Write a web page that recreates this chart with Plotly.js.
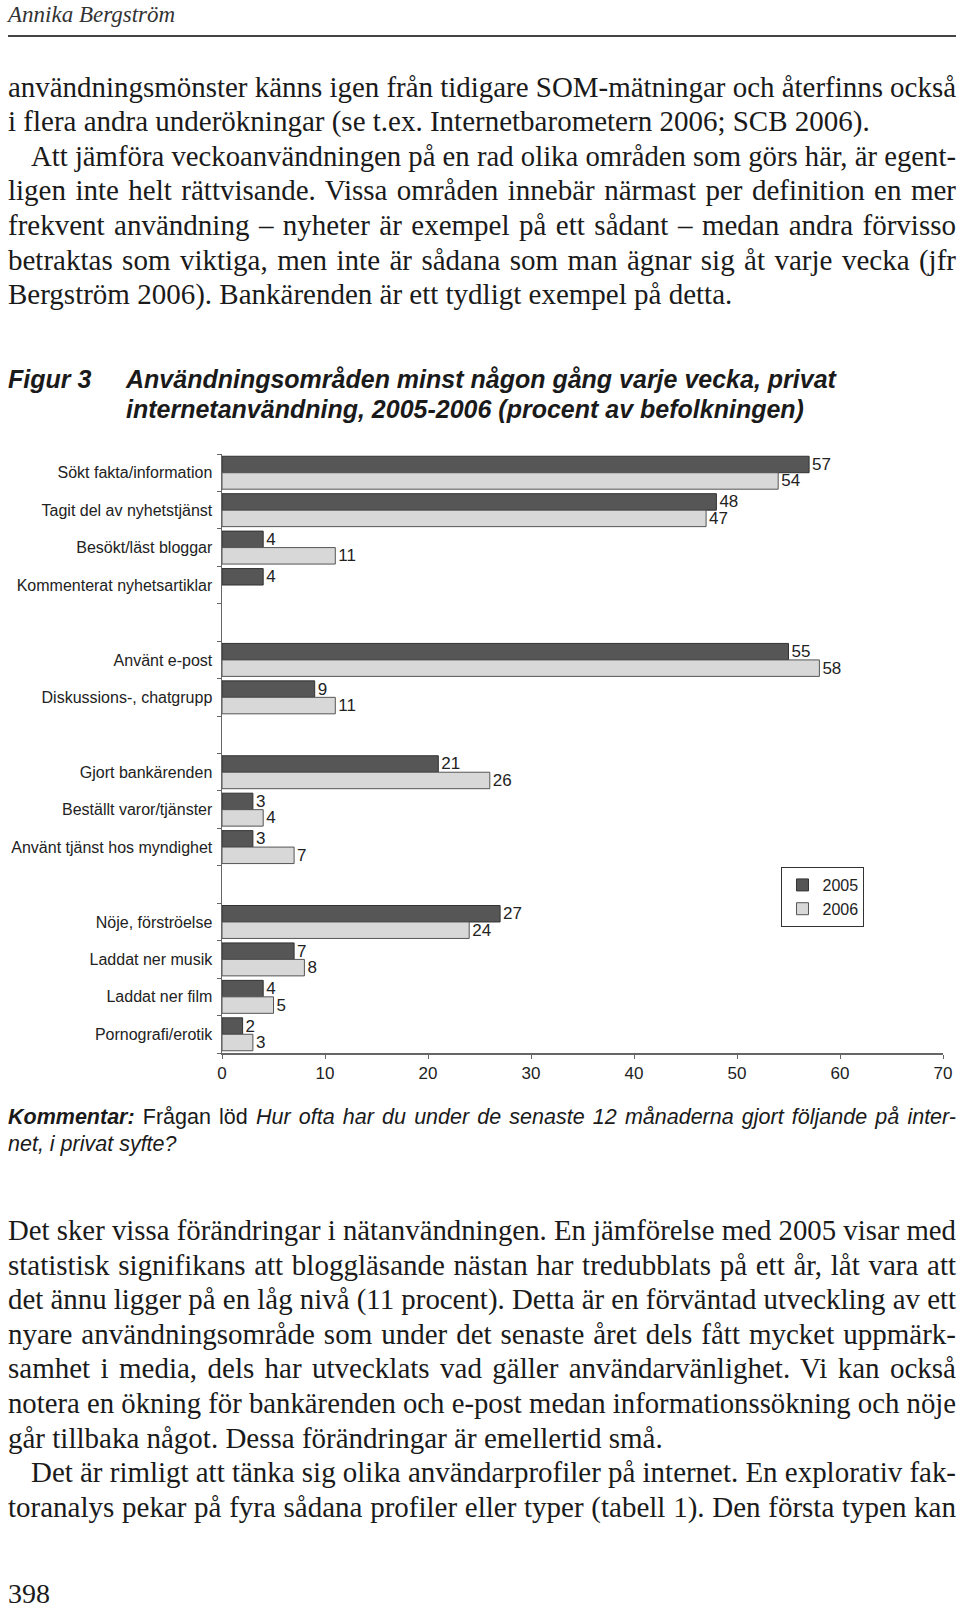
<!DOCTYPE html>
<html lang="sv">
<head>
<meta charset="utf-8">
<script src="https://cdn.plot.ly/plotly-3.0.1.min.js"></script>
<style>
  html, body { margin:0; padding:0; background:#fff; }
  body { width:960px; height:1608px; position:relative; overflow:hidden; color:#1a1a1a; }
  .abs { position:absolute; }
  .serif { font-family:"Liberation Serif","Times New Roman",serif; }
  .sans { font-family:"Liberation Sans",Arial,Helvetica,sans-serif; }
  .para { left:8px; width:948px; font-size:29px; line-height:34.6px; }
  .para div { white-space:nowrap; width:948px; }
  .jl > span { display:inline-block; white-space:nowrap; transform-origin:left center; }
  .ind { padding-left:23px; box-sizing:border-box; }
  #chart { position:absolute; left:0; top:430px; width:960px; height:670px; }
</style>
</head>
<body>

<div class="abs serif" style="left:8px; top:3px; font-size:23px; line-height:23px; font-style:italic; color:#333;">Annika Bergström</div>
<div class="abs" style="left:8px; top:35px; width:948px; height:2px; background:#444;"></div>

<div class="abs serif para" style="top:69.6px;">
  <div class="jl"><span>användningsmönster känns igen från tidigare SOM-mätningar och återfinns också</span></div>
  <div>i flera andra underökningar (se t.ex. Internetbarometern 2006; SCB 2006).</div>
  <div class="jl ind"><span>Att jämföra veckoanvändningen på en rad olika områden som görs här, är egent-</span></div>
  <div class="jl"><span>ligen inte helt rättvisande. Vissa områden innebär närmast per definition en mer</span></div>
  <div class="jl"><span>frekvent användning – nyheter är exempel på ett sådant – medan andra förvisso</span></div>
  <div class="jl"><span>betraktas som viktiga, men inte är sådana som man ägnar sig åt varje vecka (jfr</span></div>
  <div>Bergström 2006). Bankärenden är ett tydligt exempel på detta.</div>
</div>

<div class="abs sans" style="left:8px; top:363.5px; font-size:25px; line-height:30.5px; font-weight:bold; font-style:italic; color:#1a1a1a;">Figur 3</div>
<div class="abs sans" style="left:126px; top:363.5px; font-size:25px; line-height:30.5px; font-weight:bold; font-style:italic; color:#1a1a1a; white-space:nowrap;">
  <div>Användningsområden minst någon gång varje vecka, privat</div>
  <div>internetanvändning, 2005-2006 (procent av befolkningen)</div>
</div>

<div id="chart"></div>

<div class="abs sans" style="left:8px; top:1103.7px; width:948px; font-size:21.5px; line-height:27.7px; color:#1a1a1a;">
  <div class="jl" style="width:948px;"><span><b><i>Kommentar:</i></b> Frågan löd <i>Hur ofta har du under de senaste 12 månaderna gjort följande på inter-</i></span></div>
  <div style="white-space:nowrap;"><i>net, i privat syfte?</i></div>
</div>

<div class="abs serif para" style="top:1213px;">
  <div class="jl"><span>Det sker vissa förändringar i nätanvändningen. En jämförelse med 2005 visar med</span></div>
  <div class="jl"><span>statistisk signifikans att bloggläsande nästan har tredubblats på ett år, låt vara att</span></div>
  <div class="jl"><span>det ännu ligger på en låg nivå (11 procent). Detta är en förväntad utveckling av ett</span></div>
  <div class="jl"><span>nyare användningsområde som under det senaste året dels fått mycket uppmärk-</span></div>
  <div class="jl"><span>samhet i media, dels har utvecklats vad gäller användarvänlighet. Vi kan också</span></div>
  <div class="jl"><span>notera en ökning för bankärenden och e-post medan informationssökning och nöje</span></div>
  <div>går tillbaka något. Dessa förändringar är emellertid små.</div>
  <div class="jl ind"><span>Det är rimligt att tänka sig olika användarprofiler på internet. En explorativ fak-</span></div>
  <div class="jl"><span>toranalys pekar på fyra sådana profiler eller typer (tabell 1). Den första typen kan</span></div>
</div>

<div class="abs serif" style="left:8px; top:1580px; font-size:28px; line-height:28px; color:#1a1a1a;">398</div>

<script>
// ---- Data ----
// Empty strings are the blank separator rows between groups.
const categories = [
  "Sökt fakta/information",
  "Tagit del av nyhetstjänst",
  "Besökt/läst bloggar",
  "Kommenterat nyhetsartiklar",
  "",
  "Använt e-post",
  "Diskussions-, chatgrupp",
  "",
  "Gjort bankärenden",
  "Beställt varor/tjänster",
  "Använt tjänst hos myndighet",
  "",
  "Nöje, förströelse",
  "Laddat ner musik",
  "Laddat ner film",
  "Pornografi/erotik"
];
const values2005 = [57, 48, 4, 4, null, 55, 9, null, 21, 3, 3, null, 27, 7, 4, 2];
const values2006 = [54, 47, 11, null, null, 58, 11, null, 26, 4, 7, null, 24, 8, 5, 3];
const seriesNames = ["2005", "2006"];
const xTickValues = [0, 10, 20, 30, 40, 50, 60, 70];

// ---- Derived axis helpers ----
const rowIndex = categories.map(function (c, i) { return i; });
const labelRows = rowIndex.filter(function (i) { return categories[i] !== ""; });
const labelTexts = labelRows.map(function (i) { return categories[i]; });
const rowBoundaries = rowIndex.map(function (i) { return i - 0.5; }).concat([categories.length - 0.5]);

// ---- Chart ----
const traces = [
  {
    type: "bar", orientation: "h", name: seriesNames[0],
    y: rowIndex, x: values2005,
    marker: { color: "#565656", line: { color: "#333333", width: 1 } },
    texttemplate: "%{x}", textposition: "outside", cliponaxis: false,
    constraintext: "none", textfont: { size: 17, color: "#222" },
    hoverinfo: "skip"
  },
  {
    type: "bar", orientation: "h", name: seriesNames[1],
    y: rowIndex, x: values2006,
    marker: { color: "#d8d8d8", line: { color: "#555555", width: 1 } },
    texttemplate: "%{x}", textposition: "outside", cliponaxis: false,
    constraintext: "none", textfont: { size: 17, color: "#222" },
    hoverinfo: "skip"
  }
];

const layout = {
  width: 960, height: 670,
  margin: { l: 222, r: 17, t: 24, b: 47, pad: 0 },
  barmode: "group", bargap: 0.12, bargroupgap: 0,
  font: { family: '"Liberation Sans", Arial, sans-serif', size: 16, color: "#222" },
  paper_bgcolor: "rgba(0,0,0,0)", plot_bgcolor: "#fff",
  showlegend: true,
  xaxis: {
    range: [0, 70], tickmode: "array", tickvals: xTickValues,
    ticks: "outside", ticklen: 4, tickcolor: "#666", tickwidth: 1,
    showline: true, linecolor: "#666", linewidth: 1.5,
    showgrid: false, zeroline: false, ticklabelstandoff: 0,
    tickfont: { size: 17, color: "#222" }
  },
  yaxis: {
    range: [categories.length - 0.5, -0.5],
    tickmode: "array", tickvals: labelRows, ticktext: labelTexts,
    ticks: "", showline: true, linecolor: "#666", linewidth: 1.5,
    showgrid: false, zeroline: false, ticklabelstandoff: 5,
    tickfont: { size: 16, color: "#222" },
    minor: { tickmode: "array", tickvals: rowBoundaries, ticks: "outside", ticklen: 4, tickcolor: "#666", tickwidth: 1, showgrid: false }
  },
  legend: {
    x: 0.776, y: 0.3105, xanchor: "left", yanchor: "top",
    bordercolor: "#333", borderwidth: 1, bgcolor: "#fff",
    traceorder: "normal", font: { size: 16, color: "#222" }
  }
};

Plotly.newPlot("chart", traces, layout, { staticPlot: true, displayModeBar: false });

// ---- Justify fixed lines ----
function fitLines() {
  document.querySelectorAll(".jl").forEach(function (el) {
    const s = el.firstElementChild;
    const cs = getComputedStyle(el);
    const W = el.clientWidth - parseFloat(cs.paddingLeft) - parseFloat(cs.paddingRight);
    s.style.wordSpacing = "0px";
    s.style.transform = "none";
    const nat = s.getBoundingClientRect().width;
    const nSpaces = (s.textContent.match(/ /g) || []).length;
    if (nat <= W && nSpaces > 0) {
      s.style.wordSpacing = ((W - nat) / nSpaces) + "px";
    } else if (nat > W) {
      s.style.transform = "scaleX(" + (W / nat) + ")";
    }
  });
}
if (document.fonts && document.fonts.ready) { document.fonts.ready.then(fitLines); }
fitLines();
</script>
</body>
</html>
